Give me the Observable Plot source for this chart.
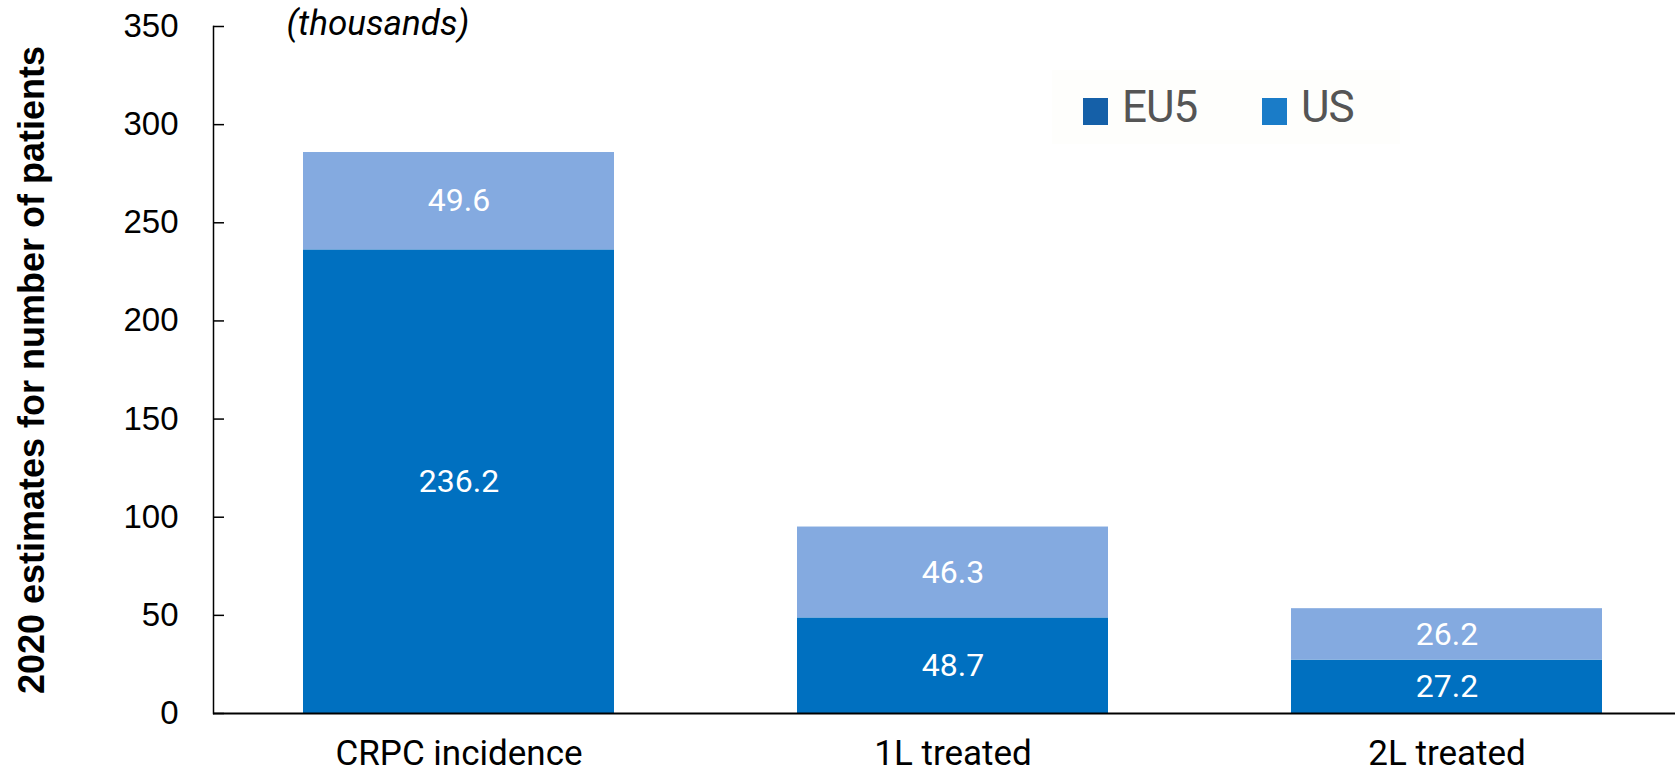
<!DOCTYPE html>
<html>
<head>
<meta charset="utf-8">
<script src="https://cdn.jsdelivr.net/npm/d3@7"></script>
<script src="https://cdn.jsdelivr.net/npm/@observablehq/plot@0.6"></script>
<style>
  html, body { margin: 0; padding: 0; background: #fff; }
  #wrap { position: relative; width: 1675px; height: 777px; }
  #legend { position: absolute; left: 1052px; top: 70px; width: 348px; height: 74px;
    background: #fefefc; font-family: Roboto, sans-serif;
    font-size: 44px; color: #555; letter-spacing: -1px; }
  #legend .item { position: absolute; top: 0; height: 74px; display: flex; align-items: center; }
  #legend .sw { width: 25px; height: 27px; margin-right: 14px; margin-top: 8px; }
</style>
</head>
<body>
<div id="wrap"><div id="legend"></div></div>
<script>
const categories = ["CRPC incidence", "1L treated", "2L treated"];
const series = ["EU5", "US"];
const eu5 = [236.2, 48.7, 27.2];
const us = [49.6, 46.3, 26.2];
const yTicks = [0, 50, 100, 150, 200, 250, 300, 350];
const yTitle = "2020 estimates for number of patients";
const unitNote = "(thousands)";
const barColors = ["#0070c0", "#84aae0"];
const legendColors = ["#1560a8", "#1a7cc8"];

const data = [];
categories.forEach((c, i) => {
  data.push({cat: c, series: "EU5", value: eu5[i]});
  data.push({cat: c, series: "US", value: us[i]});
});

const chart = Plot.plot({
  width: 1675,
  height: 777,
  marginLeft: 213,
  marginRight: 0,
  marginTop: 26,
  marginBottom: 64,
  style: {background: "transparent", fontFamily: "Roboto, sans-serif"},
  x: {domain: categories, paddingInner: 0.37, paddingOuter: 0.164, align: 0.55, label: null},
  y: {domain: [0, 350], label: null},
  color: {domain: series, range: barColors},
  marks: [
    Plot.barY(data, Plot.stackY({x: "cat", y: "value", fill: "series", order: series})),
    Plot.text(data, Plot.stackY({x: "cat", y: "value", z: "series", order: series,
      text: d => d.value.toFixed(1), fill: "white", fontSize: 32, fontFamily: "Roboto, sans-serif"})),
    Plot.axisY({ticks: yTicks, tickSize: -11, tickPadding: 46, fontSize: 33,
      fontFamily: '"Liberation Sans", Arial, sans-serif', color: "#000", label: null, strokeWidth: 1.5}),
    Plot.frame({anchor: "left", stroke: "#000", strokeWidth: 1.5}),
    Plot.ruleY([0], {stroke: "#000", strokeWidth: 2}),
    Plot.axisX({tickSize: 0, tickPadding: 27, fontSize: 35, fontFamily: "Roboto, sans-serif", color: "#000", label: null}),
    Plot.text([yTitle], {frameAnchor: "left", dx: -181, rotate: -90, textAnchor: "middle", lineAnchor: "middle",
      fontWeight: "bold", fontSize: 36, fontFamily: '"Liberation Sans", Arial, sans-serif', fill: "#000"}),
    Plot.text([unitNote], {frameAnchor: "top-left", dx: 73, dy: -3, textAnchor: "start", lineAnchor: "middle",
      fontStyle: "italic", fontSize: 35, fontFamily: "Roboto, sans-serif", fill: "#000"})
  ]
});
document.getElementById("wrap").prepend(chart);

const legend = document.getElementById("legend");
const itemLeft = [31, 210];
series.forEach((s, i) => {
  const item = document.createElement("div");
  item.className = "item";
  item.style.left = itemLeft[i] + "px";
  const sw = document.createElement("div");
  sw.className = "sw";
  sw.style.background = legendColors[i];
  const t = document.createElement("span");
  t.textContent = s;
  item.append(sw, t);
  legend.append(item);
});
</script>
</body>
</html>
